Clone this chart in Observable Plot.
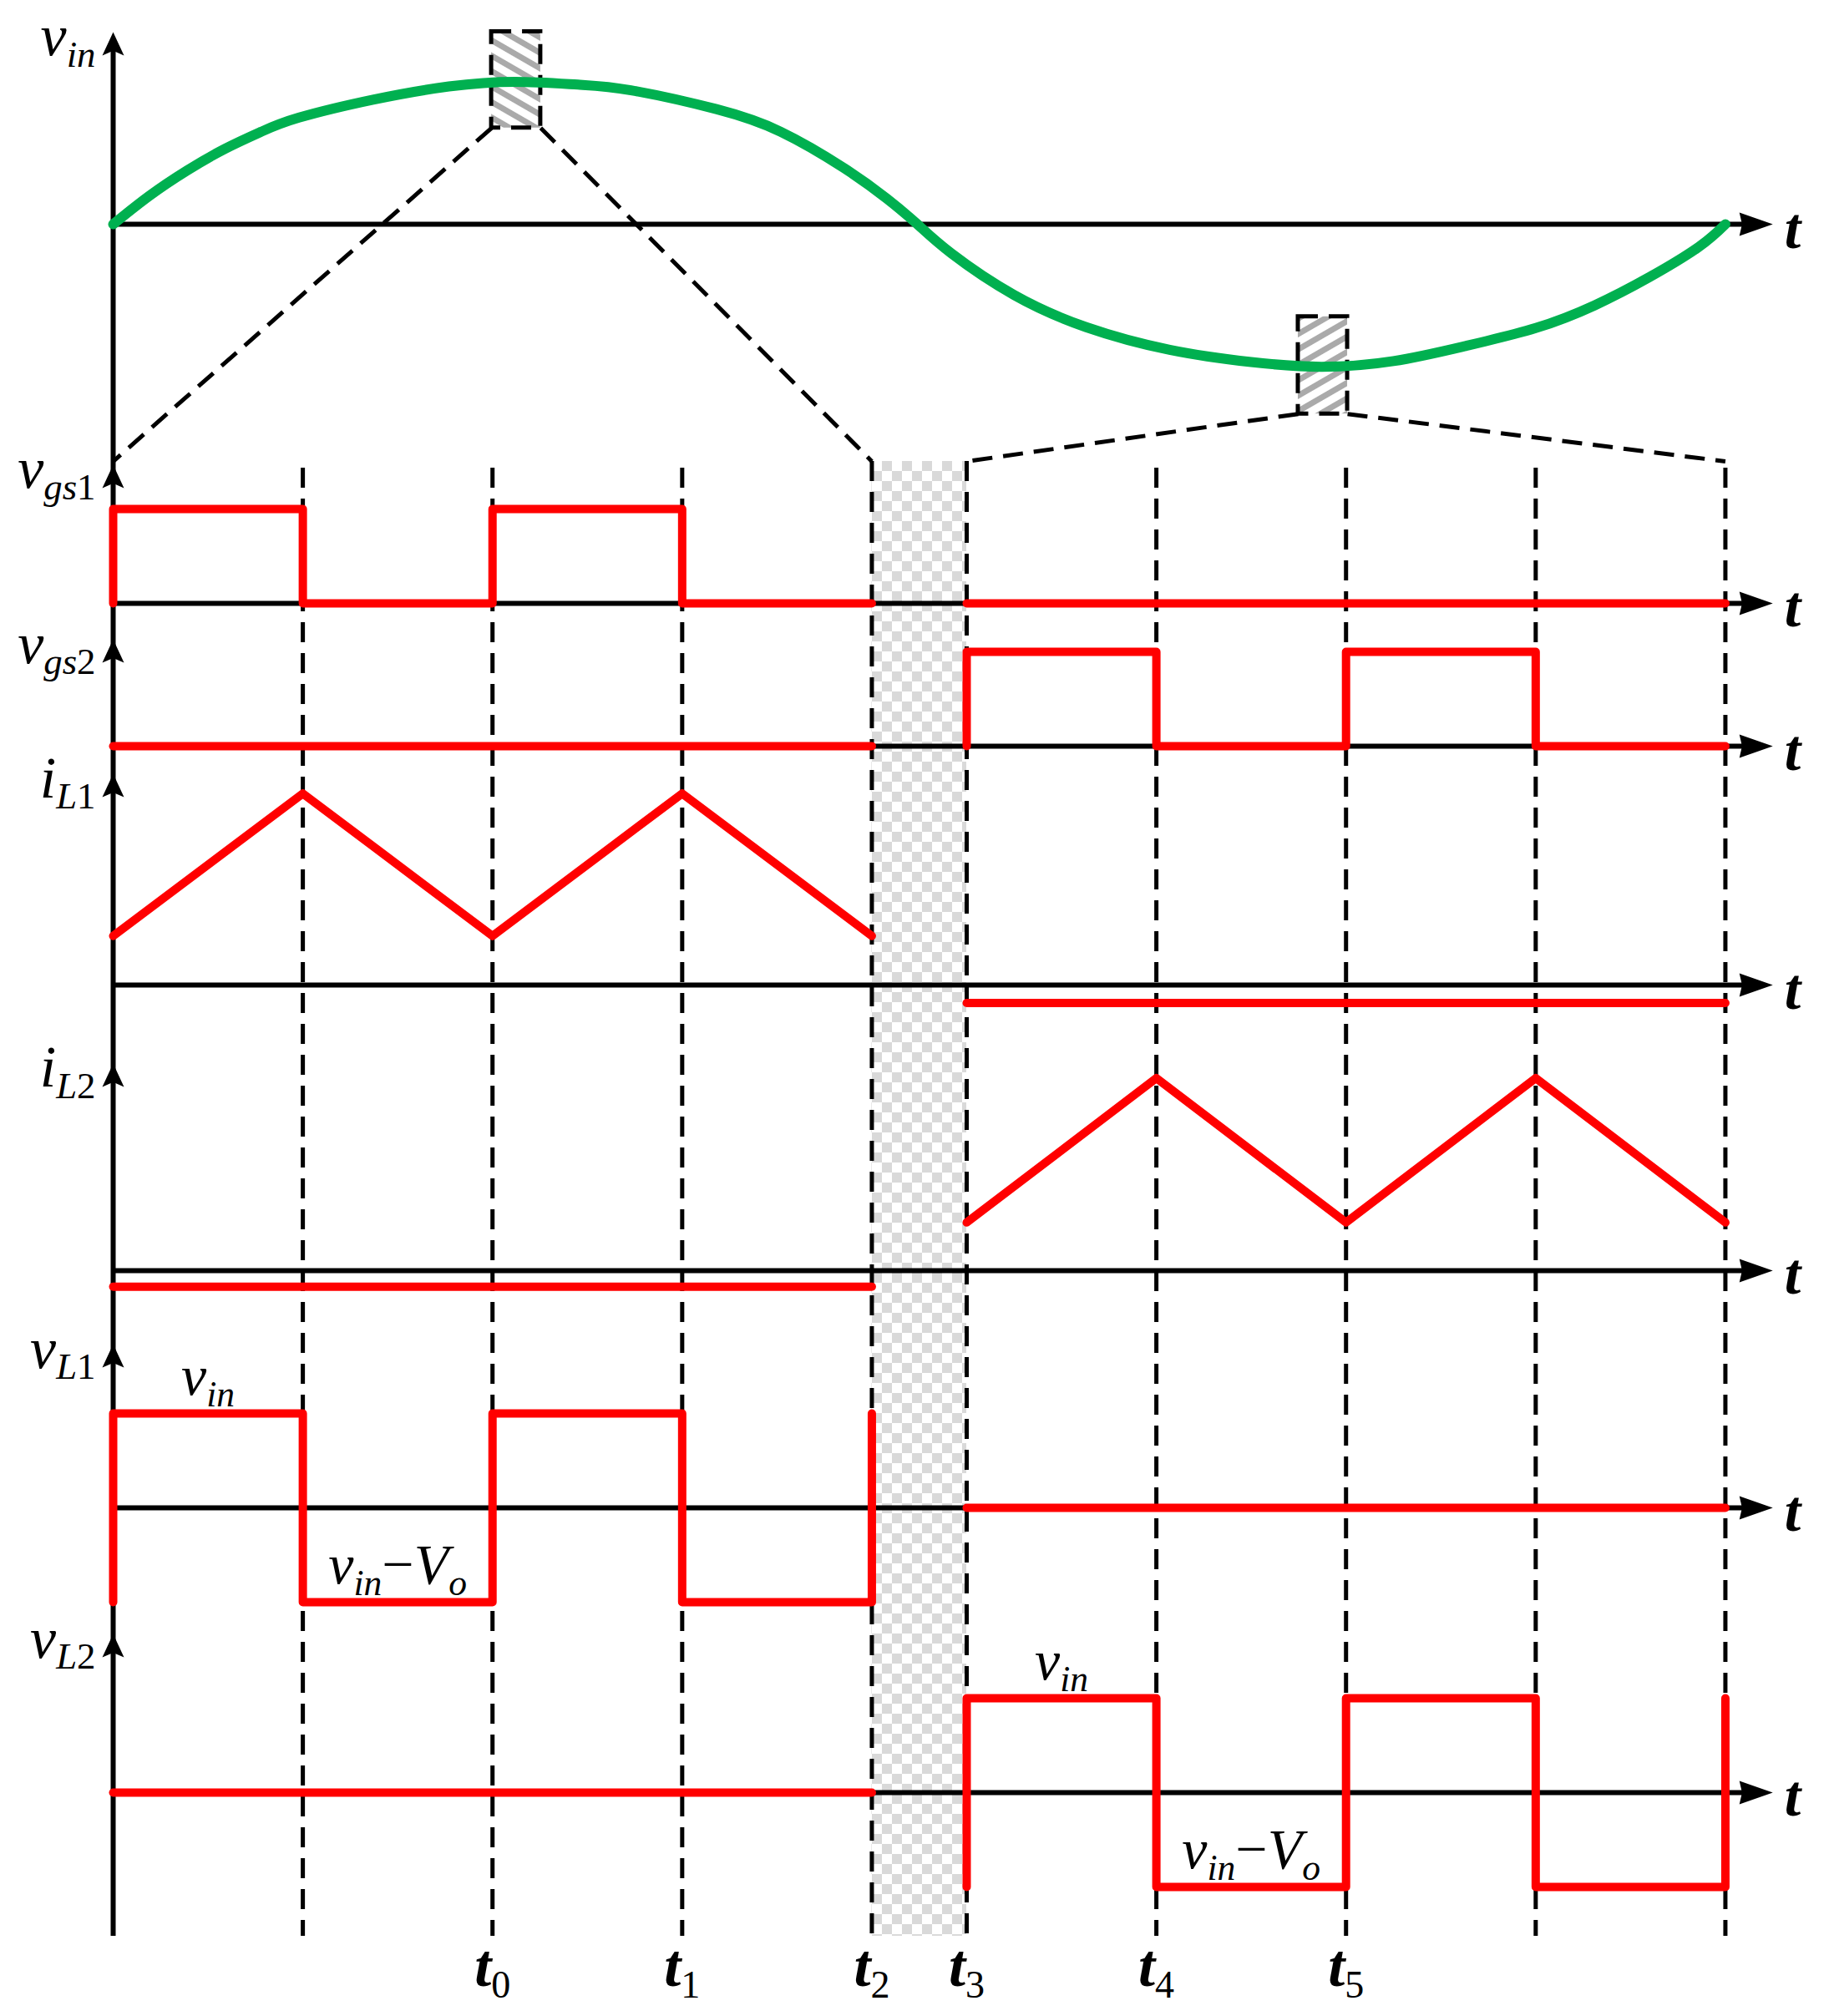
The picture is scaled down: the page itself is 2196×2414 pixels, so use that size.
<!DOCTYPE html>
<html><head><meta charset="utf-8">
<script src="https://cdn.jsdelivr.net/npm/d3@7"></script>
<script src="https://cdn.jsdelivr.net/npm/@observablehq/plot@0.6"></script>
<style>html,body{margin:0;padding:0;background:#fff;} svg{display:block;background:#fff}</style>
</head><body><div id="chart"></div>
<script>
// ---------- DATA (time in switching half-periods, values in signal units) ----------
const switchTimes = [1, 2, 3, 4, 4.5, 5.5, 6.5, 7.5, 8.5];
const tickTimes  = [2, 3, 4, 4.5, 5.5, 6.5];
const tickLabels = ["t_0", "t_1", "t_2", "t_3", "t_4", "t_5"];

// grid voltage v_in (green)
const vinT = [0, 0.19, 0.39, 0.59, 0.78, 0.98, 1.37, 1.77, 2.12, 2.45, 2.73, 3.18, 3.52, 3.85, 4.08, 4.24, 4.42, 4.75, 5.13, 5.57, 6.0, 6.37, 6.75, 7.13, 7.5, 7.81, 8.1, 8.36, 8.5];
const vinV = [0, 0.30, 0.57, 0.80, 0.98, 1.13, 1.32, 1.46, 1.51, 1.48, 1.42, 1.22, 0.98, 0.60, 0.27, 0, -0.31, -0.75, -1.09, -1.33, -1.46, -1.51, -1.45, -1.29, -1.10, -0.86, -0.56, -0.24, 0];

// red waveforms: each is a list of segments, each segment a list of [time, value]
const vgs1 = [[[0,0],[0,1],[1,1],[1,0],[2,0],[2,1],[3,1],[3,0],[4,0]], [[4.5,0],[8.5,0]]];
const vgs2 = [[[0,0],[4,0]], [[4.5,0],[4.5,1],[5.5,1],[5.5,0],[6.5,0],[6.5,1],[7.5,1],[7.5,0],[8.5,0]]];
const iL1  = [[[0,0.52],[1,2.03],[2,0.52],[3,2.03],[4,0.52]], [[4.5,-0.19],[8.5,-0.19]]];
const iL2  = [[[0,-0.17],[4,-0.17]], [[4.5,0.51],[5.5,2.04],[6.5,0.51],[7.5,2.04],[8.5,0.51]]];
const vL1  = [[[0,-1],[0,1],[1,1],[1,-1],[2,-1],[2,1],[3,1],[3,-1],[4,-1],[4,1]], [[4.5,0],[8.5,0]]];
const vL2  = [[[0,0],[4,0]], [[4.5,-1],[4.5,1],[5.5,1],[5.5,-1],[6.5,-1],[6.5,1],[7.5,1],[7.5,-1],[8.5,-1],[8.5,1]]];

const laneKeys   = ["vin", "vgs1", "vgs2", "iL1", "iL2", "vL1", "vL2"];
const laneLabels = ["v_in", "v_gs1", "v_gs2", "i_L1", "i_L2", "v_L1", "v_L2"];

// level annotations inside the v_L panels
const annoText = ["v_in", "v_in−V_o", "v_in", "v_in−V_o"];
const annoLane = ["vL1", "vL1", "vL2", "vL2"];
const annoT    = [0.5, 1.5, 5.0, 6.0];
const annoV    = [1, -1, 1, -1];

// zoom windows on v_in (time span, value span) and the sections they expand to
const zoomT1 = [1.995, 6.248], zoomT2 = [2.254, 6.508];
const zoomVTop = [2.04, -0.98], zoomVBot = [1.02, -2.01];
const sectionStart = [0, 4.5], sectionEnd = [4, 8.5];
const gapStart = 4, gapEnd = 4.5;

// ---------- LAYOUT (vertical lanes, in lane units) ----------
const layout = {
  vin:  {base: 2.372, tip: 0.336},
  vgs1: {base: 6.389, tip: 4.920},
  vgs2: {base: 7.903, tip: 6.770},
  iL1:  {base: 10.434, tip: 8.195},
  iL2:  {base: 13.460, tip: 11.265},
  vL1:  {base: 15.973, tip: 14.239},
  vL2:  {base: 18.991, tip: 17.310}
};
const sectionTop = 4.885, dashTop = 4.956, bottomY = 20.513;
const W = 2196, H = 2414;

const waves = {vgs1, vgs2, iL1, iL2, vL1, vL2};
const redPts = [];
for (const [k, segs] of Object.entries(waves)) {
  segs.forEach((seg, si) => seg.forEach(([t, v]) => redPts.push({t, y: layout[k].base - v, z: k + si})));
}
const vinPts = vinT.map((t, i) => ({t, y: layout.vin.base - vinV[i]}));
const lanes = laneKeys.map((k, i) => ({key: k, label: laneLabels[i], base: layout[k].base, tip: layout[k].tip}));
const boxes = zoomT1.map((t1, i) => ({
  x1: t1, x2: zoomT2[i],
  y1: layout.vin.base - zoomVTop[i], y2: layout.vin.base - zoomVBot[i],
  s0: sectionStart[i], s1: sectionEnd[i], fill: i === 0 ? "url(#hatchA)" : "url(#hatchB)"
}));
const connectors = boxes.flatMap(b => [
  {x1: b.x1, y1: b.y2, x2: b.s0, y2: sectionTop},
  {x1: b.x2, y1: b.y2, x2: b.s1, y2: sectionTop}
]);
const annos = annoText.map((s, i) => ({s, t: annoT[i], y: layout[annoLane[i]].base - annoV[i]}));
const ticks = tickTimes.map((t, i) => ({t, s: tickLabels[i]}));

const upHead = {draw(c, l, r) { c.moveTo(0, -l); c.lineTo(r, 0); c.lineTo(0, -l * 0.2); c.lineTo(-r, 0); c.closePath(); }};
const rightHead = {draw(c, l, r) { c.moveTo(0, -l); c.lineTo(r, 0); c.lineTo(0, -l * 0.08); c.lineTo(-r, 0); c.closePath(); }};

const FONT = "'Liberation Serif', 'Times New Roman', serif";
const RED = "#ff0000", GREEN = "#00b050";
const dash = "24,13";

const svg = Plot.plot({
  width: W, height: H, margin: 0,
  style: {fontFamily: FONT},
  x: {domain: [0, 9], range: [135, 2179], axis: null},
  y: {domain: [0, H / 113], range: [0, H], axis: null},
  marks: [
    // break (gap) region
    Plot.rect([0], {x1: gapStart, x2: gapEnd, y1: sectionTop, y2: bottomY, fill: "url(#checker)"}),
    // zoom windows
    Plot.rect(boxes, {x1: "x1", x2: "x2", y1: "y1", y2: "y2", fill: d => d.fill, stroke: "black", strokeWidth: 5, strokeDasharray: dash}),
    // axes
    Plot.ruleY(lanes, {y: "base", x1: 0, x2: 8.6, stroke: "black", strokeWidth: 6}),
    Plot.ruleX([0], {y1: bottomY, y2: 0.45, stroke: "black", strokeWidth: 6}),
    // dashed time markers
    Plot.ruleX(switchTimes, {x: d => d, y1: d => (d === gapStart || d === gapEnd) ? sectionTop : dashTop, y2: bottomY, stroke: "black", strokeWidth: 5, strokeDasharray: dash}),
    Plot.link(connectors, {x1: "x1", y1: "y1", x2: "x2", y2: "y2", stroke: "black", strokeWidth: 5, strokeDasharray: dash}),
    // waveforms
    Plot.line(redPts, {x: "t", y: "y", z: "z", stroke: RED, strokeWidth: 10, strokeLinecap: "round", strokeLinejoin: "round"}),
    Plot.line(vinPts, {x: "t", y: "y", curve: "natural", stroke: GREEN, strokeWidth: 12, strokeLinecap: "round"}),
    // arrowheads
    Plot.vector(lanes, {x: 0, y: "tip", anchor: "end", length: 28, r: 13, shape: upHead, fill: "black", stroke: "none"}),
    Plot.vector(lanes, {x: 8.75, y: "base", rotate: 90, anchor: "end", length: 40, r: 14, shape: rightHead, fill: "black", stroke: "none"}),
    // labels
    Plot.text(lanes, {x: 0, y: "tip", text: "label", textAnchor: "end", lineAnchor: "bottom", dx: -21, dy: 28, fontSize: 70, fontFamily: FONT, fill: "black"}),
    Plot.text(lanes, {x: 8.75, y: "base", text: () => "t", textAnchor: "start", lineAnchor: "bottom", dx: 14, dy: 28, fontSize: 70, fontFamily: FONT, fontWeight: "bold", fill: "black"}),
    Plot.text(ticks, {x: "t", y: bottomY, text: "s", textAnchor: "middle", lineAnchor: "bottom", dy: 60, fontSize: 72, fontFamily: FONT, fontWeight: "bold", fill: "black"}),
    Plot.text(annos, {x: "t", y: "y", text: "s", textAnchor: "middle", lineAnchor: "bottom", dy: -22, fontSize: 68, fontFamily: FONT, fill: "black"})
  ]
});

// patterns
const NS = "http://www.w3.org/2000/svg";
const defs = document.createElementNS(NS, "defs");
defs.innerHTML = `
<pattern id="checker" width="24" height="24" patternUnits="userSpaceOnUse">
  <rect width="24" height="24" fill="#ffffff"/><rect width="12" height="12" fill="#d9d9d9"/><rect x="12" y="12" width="12" height="12" fill="#d9d9d9"/>
</pattern>
<pattern id="hatchA" width="16" height="16" patternUnits="userSpaceOnUse" patternTransform="rotate(30)">
  <rect width="16" height="16" fill="#ffffff"/><rect width="16" height="7" fill="#aaaaaa"/>
</pattern>
<pattern id="hatchB" width="16" height="16" patternUnits="userSpaceOnUse" patternTransform="rotate(-30)">
  <rect width="16" height="16" fill="#ffffff"/><rect width="16" height="7" fill="#aaaaaa"/>
</pattern>`;
svg.insertBefore(defs, svg.firstChild);

// rich text: italic letters, upright digits/minus, subscripts after "_"
function richify(el) {
  const s = el.textContent;
  const parts = s.split(/_([A-Za-z0-9]+)/);
  while (el.firstChild) el.removeChild(el.firstChild);
  el.setAttribute("font-family", FONT);
  el.style.fontFamily = FONT;
  let inSub = false;
  parts.forEach((p, i) => {
    if (!p) return;
    const sub = i % 2 === 1;
    const runs = p.match(/[0-9]+|[−+\-]+|[^0-9−+\-]+/g) || [];
    runs.forEach(run => {
      const ts = document.createElementNS(NS, "tspan");
      ts.textContent = run;
      const upright = /^[0-9−+\-]+$/.test(run);
      ts.style.fontFamily = FONT;
      ts.setAttribute("font-style", upright ? "normal" : "italic");
      if (sub) {
        ts.setAttribute("font-size", "0.64em");
        if (upright) ts.setAttribute("font-weight", "normal");
        if (!inSub) { ts.setAttribute("dy", "0.3em"); inSub = true; }
      } else if (inSub) {
        ts.setAttribute("dy", "-0.192em"); inSub = false;
      }
      el.appendChild(ts);
    });
  });
}
svg.querySelectorAll('g[aria-label="text"] text').forEach(richify);

document.getElementById("chart").appendChild(svg);
</script>
</body></html>
